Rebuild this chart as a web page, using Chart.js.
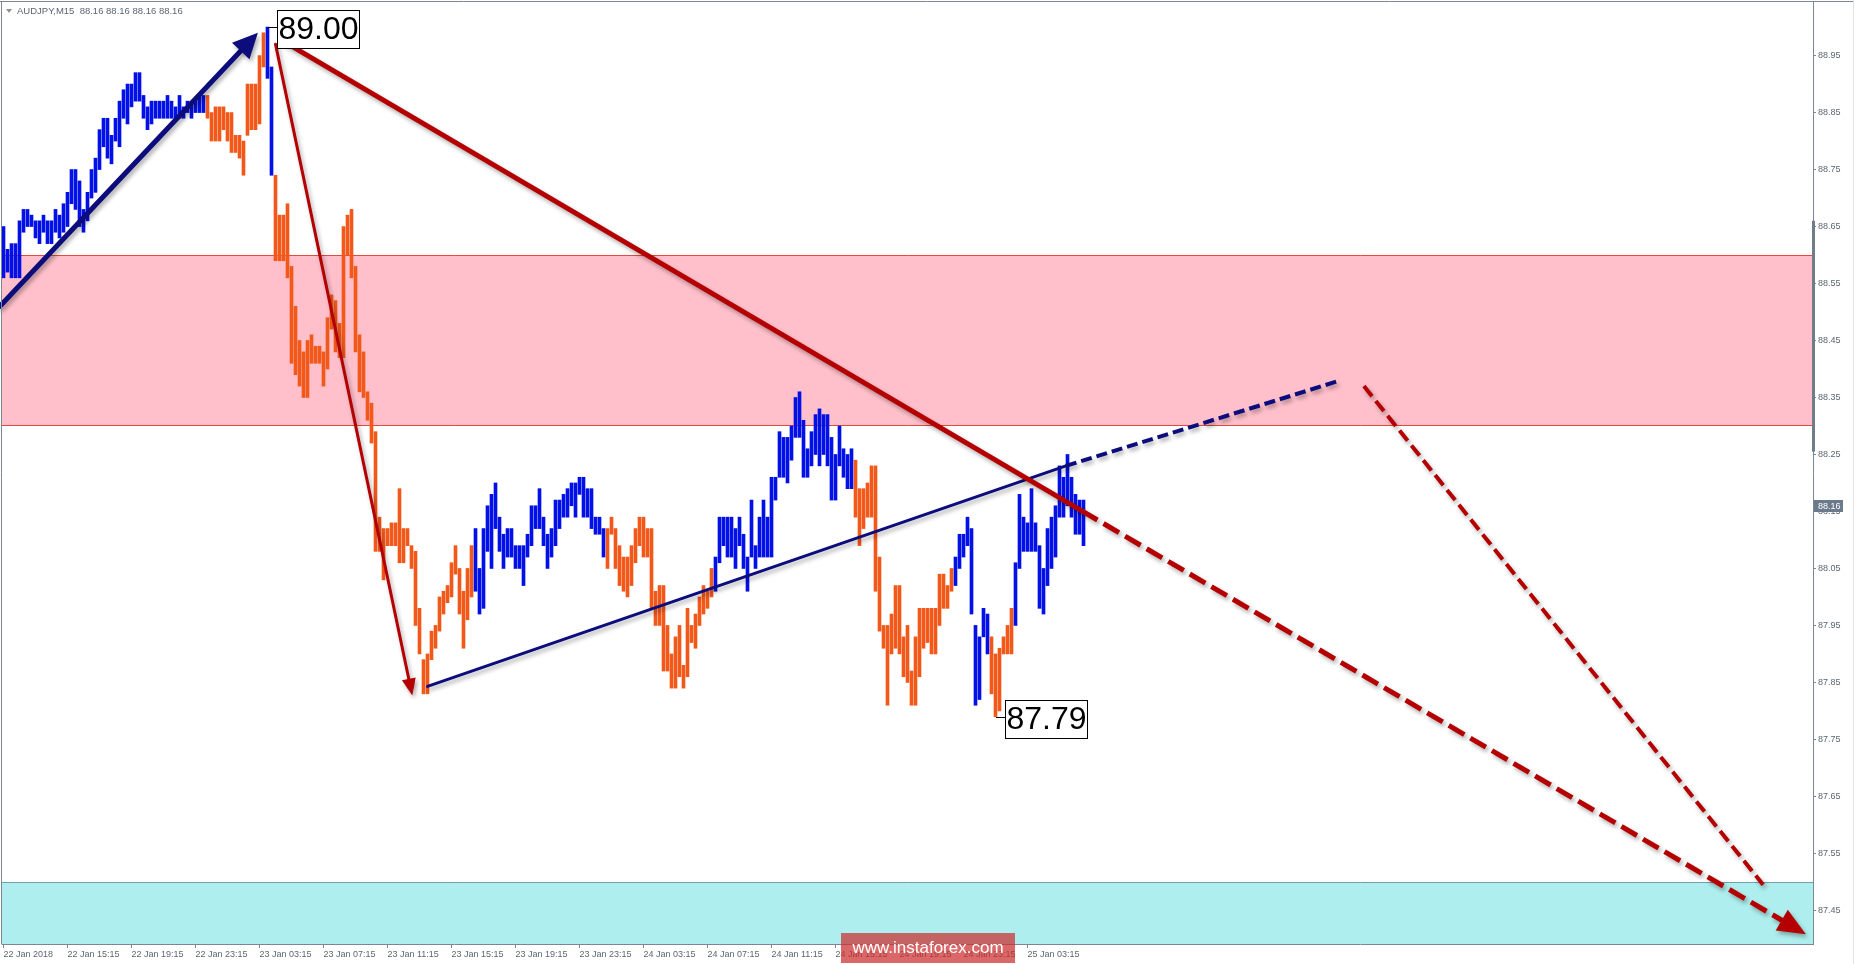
<!DOCTYPE html>
<html>
<head>
<meta charset="utf-8">
<title>AUDJPY M15</title>
<script src="https://cdn.jsdelivr.net/npm/chart.js@4.4.1/dist/chart.umd.min.js"></script>
<style>
  html, body { margin: 0; padding: 0; background: #fff; }
  canvas { display: block; }
</style>
</head>
<body>
<canvas id="chart" width="1855" height="964"></canvas>
<script>
// bar lows / highs, one per M15 bar
const lows = [
  88.56,88.57,88.56,88.56,88.56,88.64,88.65,88.65,88.63,88.62,
  88.64,88.62,88.62,88.64,88.63,88.64,88.65,88.69,88.68,88.65,
  88.64,88.66,88.70,88.71,88.75,88.79,88.77,88.76,88.80,88.79,
  88.84,88.83,88.86,88.87,88.87,88.84,88.82,88.83,88.84,88.84,
  88.84,88.84,88.84,88.84,88.84,88.84,88.85,88.84,88.85,88.85,
  88.85,88.84,88.80,88.80,88.80,88.82,88.80,88.78,88.78,88.77,
  88.74,88.81,88.82,88.82,88.83,88.93,88.91,88.74,88.59,88.59,
  88.59,88.56,88.41,88.39,88.37,88.35,88.35,88.41,88.41,88.41,
  88.37,88.40,88.47,88.43,88.42,88.42,88.60,88.56,88.43,88.36,
  88.35,88.31,88.27,88.08,88.08,88.03,88.09,88.09,88.09,88.06,
  88.06,88.09,88.05,87.95,87.90,87.83,87.83,87.89,87.91,87.94,
  87.97,87.99,88.00,88.04,87.97,87.91,87.96,88.00,88.01,87.97,
  87.98,88.08,88.05,88.12,88.08,88.05,88.07,88.07,88.05,88.05,
  88.02,88.07,88.09,88.12,88.12,88.09,88.05,88.07,88.09,88.12,
  88.14,88.14,88.16,88.14,88.18,88.14,88.14,88.12,88.11,88.11,
  88.07,88.05,88.11,88.05,88.02,88.01,88.00,88.02,88.06,88.09,
  88.07,88.07,87.98,87.95,87.95,87.87,87.87,87.84,87.84,87.86,
  87.84,87.86,87.92,87.91,87.95,87.97,87.98,88.00,88.01,88.06,
  88.09,88.07,88.07,88.05,88.09,88.05,88.01,88.07,88.05,88.07,
  88.07,88.07,88.07,88.17,88.21,88.21,88.20,88.24,88.28,88.28,
  88.21,88.21,88.23,88.25,88.23,88.25,88.23,88.17,88.17,88.23,
  88.21,88.19,88.19,88.14,88.09,88.12,88.14,88.14,88.01,87.94,
  87.91,87.81,87.90,87.91,87.90,87.86,87.85,87.81,87.81,87.86,
  87.91,87.92,87.90,87.90,87.95,87.98,87.98,88.01,88.02,88.05,
  88.07,88.09,87.97,87.81,87.82,87.93,87.90,87.83,87.79,87.80,
  87.90,87.90,87.90,87.95,88.05,88.08,88.08,88.08,88.08,87.98,
  87.97,88.02,88.05,88.07,88.14,88.14,88.16,88.14,88.11,88.11,88.09
];
const highs = [
  88.65,88.61,88.62,88.62,88.66,88.68,88.68,88.67,88.66,88.66,
  88.67,88.66,88.66,88.68,88.67,88.69,88.71,88.75,88.75,88.73,
  88.68,88.71,88.75,88.77,88.82,88.84,88.84,88.81,88.84,88.87,
  88.89,88.90,88.90,88.92,88.92,88.88,88.86,88.87,88.87,88.87,
  88.87,88.88,88.87,88.86,88.88,88.86,88.87,88.87,88.87,88.88,
  88.88,88.88,88.85,88.86,88.86,88.86,88.85,88.85,88.81,88.81,
  88.80,88.90,88.90,88.90,88.95,88.99,89.00,88.93,88.74,88.67,
  88.67,88.69,88.58,88.51,88.45,88.43,88.45,88.46,88.44,88.44,
  88.43,88.49,88.53,88.52,88.48,88.65,88.67,88.68,88.58,88.46,
  88.43,88.36,88.34,88.29,88.14,88.12,88.12,88.13,88.13,88.19,
  88.12,88.12,88.09,88.08,87.98,87.89,87.90,87.94,87.95,88.00,
  88.01,88.02,88.06,88.09,88.05,88.01,88.05,88.09,88.12,88.05,
  88.12,88.16,88.18,88.20,88.14,88.11,88.12,88.12,88.09,88.09,
  88.09,88.11,88.16,88.16,88.19,88.14,88.11,88.12,88.17,88.17,
  88.18,88.19,88.20,88.20,88.21,88.21,88.19,88.19,88.14,88.14,
  88.12,88.12,88.14,88.12,88.09,88.07,88.07,88.09,88.12,88.14,
  88.14,88.12,88.12,88.01,88.02,88.02,87.95,87.90,87.93,87.95,
  87.88,87.98,87.95,87.97,88.00,88.02,88.01,88.05,88.07,88.14,
  88.14,88.14,88.14,88.12,88.14,88.11,88.07,88.17,88.09,88.14,
  88.17,88.14,88.21,88.21,88.29,88.28,88.28,88.30,88.35,88.36,
  88.31,88.26,88.29,88.32,88.33,88.32,88.32,88.28,88.25,88.30,
  88.26,88.25,88.26,88.24,88.19,88.19,88.20,88.23,88.23,88.07,
  87.95,87.95,87.97,88.02,88.02,87.93,87.95,87.87,87.93,87.98,
  87.98,87.98,87.98,87.98,88.04,88.04,88.02,88.05,88.07,88.11,
  88.11,88.14,88.12,87.95,87.93,87.98,87.97,87.93,87.90,87.91,
  87.93,87.95,87.98,88.06,88.18,88.14,88.13,88.19,88.13,88.09,
  88.05,88.12,88.14,88.16,88.23,88.21,88.25,88.21,88.18,88.17,88.17
];
// colour runs: [number of bars, 'u' = blue, 'd' = orange]
const colorRuns = [[51,'u'],[15,'d'],[2,'u'],[50,'d'],[33,'u'],[27,'d'],[35,'u'],[25,'d'],[9,'u'],[6,'d'],[18,'u']];

const timeLabels = ["22 Jan 2018","22 Jan 15:15","22 Jan 19:15","22 Jan 23:15","23 Jan 03:15","23 Jan 07:15",
  "23 Jan 11:15","23 Jan 15:15","23 Jan 19:15","23 Jan 23:15","24 Jan 03:15","24 Jan 07:15","24 Jan 11:15",
  "24 Jan 15:15","24 Jan 19:15","24 Jan 23:15","25 Jan 03:15"];
const priceTicks = [88.95,88.85,88.75,88.65,88.55,88.45,88.35,88.25,88.15,88.05,87.95,87.85,87.75,87.65,87.55,87.45];

const sellZone = [88.30, 88.60];
const buyZone = [87.30, 87.50];
const lastPrice = 88.16;

// wave lines in [bar index, price]
const impulseUp = [[-0.9, 88.51], [63.6, 88.99]];
const mainDown = [[70, 88.975], [269.6, 88.151], [450.6, 87.408]];
const waveA = [[68, 88.97], [102.2, 87.827]];
const waveB = [[106, 87.843], [265.6, 88.23], [334.2, 88.38]];
const altDown = [[340.1, 88.37], [439.9, 87.495]];
const highMark = { bar: 66, price: 89.00 };
const lowMark = { bar: 248, price: 87.79 };

const BLUE = '#0010e6';
const ORANGE = '#f2581a';
const NAVY = '#0c0c7c';
const RED = '#b40000';
const FRAME = '#7b8794';
const TXT = '#5c6670';
const FONT = '"Liberation Sans", Arial, sans-serif';

const dirs = [];
colorRuns.forEach(r => { for (let k = 0; k < r[0]; k++) dirs.push(r[1]); });

const barData = lows.map((lo, i) => ({ x: i, y: [lo, highs[i]] }));

function toPx(chart, p) {
  return [chart.scales.x.getPixelForValue(p[0]), chart.scales.y.getPixelForValue(p[1])];
}

function drawPath(ctx, pts, color, width, dash, head) {
  ctx.save();
  ctx.strokeStyle = color;
  ctx.fillStyle = color;
  ctx.lineWidth = width;
  ctx.setLineDash(dash || []);
  ctx.lineCap = dash ? 'butt' : 'round';
  ctx.shadowColor = 'rgba(0,0,0,0.32)';
  ctx.shadowBlur = 4;
  ctx.shadowOffsetX = 2;
  ctx.shadowOffsetY = 3;
  const last = pts[pts.length - 1], prev = pts[pts.length - 2];
  let end = last, ux = 0, uy = 0;
  if (head) {
    const dx = last[0] - prev[0], dy = last[1] - prev[1], L = Math.hypot(dx, dy);
    ux = dx / L; uy = dy / L;
    end = [last[0] - ux * head[0] * 0.8, last[1] - uy * head[0] * 0.8];
  }
  ctx.beginPath();
  ctx.moveTo(pts[0][0], pts[0][1]);
  for (let k = 1; k < pts.length - 1; k++) ctx.lineTo(pts[k][0], pts[k][1]);
  ctx.lineTo(end[0], end[1]);
  ctx.stroke();
  if (head) {
    ctx.setLineDash([]);
    const bx = last[0] - ux * head[0], by = last[1] - uy * head[0];
    const hw = head[1] / 2;
    ctx.beginPath();
    ctx.moveTo(last[0], last[1]);
    ctx.lineTo(bx - uy * hw, by + ux * hw);
    ctx.lineTo(bx + uy * hw, by - ux * hw);
    ctx.closePath();
    ctx.fill();
  }
  ctx.restore();
}

function priceBox(chart, mark) {
  const ctx = chart.ctx;
  const [x, y] = toPx(chart, [mark.bar, mark.price]);
  const text = mark.price.toFixed(2);
  ctx.save();
  ctx.font = '32px ' + FONT;
  const w = Math.round(ctx.measureText(text).width) + 2;
  const left = Math.round(x + 9) + 0.5, top = Math.round(y - 17) + 0.5;
  ctx.strokeStyle = '#000';
  ctx.lineWidth = 1;
  ctx.beginPath();
  ctx.moveTo(Math.round(x), Math.round(y) + 0.5);
  ctx.lineTo(left, Math.round(y) + 0.5);
  ctx.stroke();
  ctx.fillStyle = '#fff';
  ctx.fillRect(left, top, w, 38);
  ctx.strokeRect(left, top, w, 38);
  ctx.fillStyle = '#000';
  ctx.textBaseline = 'middle';
  ctx.fillText(text, left + 1, top + 20);
  ctx.restore();
}

const overlay = {
  id: 'overlay',
  beforeDatasetsDraw(chart) {
    const { ctx, chartArea: a, scales: { y } } = chart;
    ctx.save();
    const t = Math.round(y.getPixelForValue(sellZone[1])), b = Math.round(y.getPixelForValue(sellZone[0]));
    ctx.fillStyle = '#ffc0cb';
    ctx.fillRect(a.left, t, a.right - a.left, b - t);
    ctx.strokeStyle = '#e8493f';
    ctx.lineWidth = 1;
    ctx.beginPath();
    ctx.moveTo(a.left, t + 0.5); ctx.lineTo(a.right, t + 0.5);
    ctx.moveTo(a.left, b - 0.5); ctx.lineTo(a.right, b - 0.5);
    ctx.stroke();
    const ct = Math.round(y.getPixelForValue(buyZone[1]));
    ctx.fillStyle = '#afeeee';
    ctx.fillRect(a.left, ct, a.right - a.left, a.bottom - ct);
    ctx.strokeStyle = '#6f9fb0';
    ctx.beginPath();
    ctx.moveTo(a.left, ct + 0.5); ctx.lineTo(a.right, ct + 0.5);
    ctx.stroke();
    ctx.restore();
  },
  afterDatasetsDraw(chart) {
    const ctx = chart.ctx;
    const P = pts => pts.map(p => toPx(chart, p));
    drawPath(ctx, P(waveB.slice(0, 2)), NAVY, 3);
    drawPath(ctx, P(waveB.slice(1)), NAVY, 4, [11, 5]);
    drawPath(ctx, P(altDown), RED, 4, [13, 6]);
    drawPath(ctx, P(mainDown.slice(0, 2)), RED, 5);
    drawPath(ctx, P(mainDown.slice(1)), RED, 5, [18, 7], [28, 24]);
    drawPath(ctx, P(waveA), RED, 3, null, [17, 14]);
    drawPath(ctx, P(impulseUp), NAVY, 5, null, [25, 24]);
  },
  afterDraw(chart) {
    const { ctx, chartArea: a, scales: { y } } = chart;
    ctx.save();
    // frame
    ctx.strokeStyle = FRAME;
    ctx.lineWidth = 1;
    ctx.beginPath();
    ctx.moveTo(0, 1.5); ctx.lineTo(1853, 1.5);
    ctx.moveTo(1.5, 1.5); ctx.lineTo(1.5, a.bottom);
    ctx.moveTo(a.right + 0.5, 1.5); ctx.lineTo(a.right + 0.5, a.bottom + 1);
    ctx.moveTo(1.5, a.bottom + 0.5); ctx.lineTo(a.right + 0.5, a.bottom + 0.5);
    ctx.stroke();
    ctx.strokeStyle = '#e2e2e2';
    ctx.beginPath();
    ctx.moveTo(1853.5, 0); ctx.lineTo(1853.5, 964);
    ctx.stroke();
    // scale marker on the price axis
    ctx.fillStyle = '#6f7c89';
    ctx.fillRect(a.right - 1, y.getPixelForValue(88.66), 3, y.getPixelForValue(88.255) - y.getPixelForValue(88.66));
    // current price label
    const yp = Math.round(y.getPixelForValue(lastPrice));
    ctx.fillStyle = '#6b7a8a';
    ctx.fillRect(a.right + 1, yp - 6, 29, 12);
    ctx.fillStyle = '#fff';
    ctx.font = '9px ' + FONT;
    ctx.textBaseline = 'middle';
    ctx.fillText(lastPrice.toFixed(2), a.right + 5, yp + 0.5);
    // title
    ctx.fillStyle = '#8a939c';
    ctx.beginPath();
    ctx.moveTo(6, 9); ctx.lineTo(12, 9); ctx.lineTo(9, 13); ctx.closePath();
    ctx.fill();
    ctx.fillStyle = TXT;
    ctx.font = '9.5px ' + FONT;
    ctx.textBaseline = 'middle';
    const p = lastPrice.toFixed(2);
    ctx.fillText('AUDJPY,M15  ' + [p, p, p, p].join(' '), 17, 11.5);
    ctx.restore();
    priceBox(chart, highMark);
    priceBox(chart, lowMark);
    // watermark
    ctx.save();
    ctx.fillStyle = 'rgba(204,46,46,0.72)';
    ctx.fillRect(841, 933, 174, 30);
    ctx.fillStyle = '#fff';
    ctx.font = '17px ' + FONT;
    ctx.textAlign = 'center';
    ctx.textBaseline = 'middle';
    ctx.fillText('www.instaforex.com', 928, 948);
    ctx.restore();
  }
};

new Chart(document.getElementById('chart'), {
  type: 'bar',
  data: {
    datasets: [{
      data: barData,
      backgroundColor: dirs.map(d => d === 'u' ? BLUE : ORANGE),
      barThickness: 3,
      borderWidth: 0
    }]
  },
  options: {
    responsive: false,
    animation: false,
    events: [],
    layout: { padding: { left: 2, top: 2, right: 0, bottom: 0 } },
    plugins: { legend: { display: false }, tooltip: { enabled: false } },
    scales: {
      x: {
        type: 'linear',
        offset: false,
        min: -0.375,
        max: 452.375,
        afterBuildTicks: s => { s.ticks = timeLabels.map((_, k) => ({ value: k * 16 })); },
        afterFit: s => { s.height = 20; s.paddingLeft = 0; s.paddingRight = 0; },
        ticks: {
          autoSkip: false, maxRotation: 0, align: 'start', padding: 1,
          color: TXT, font: { family: FONT, size: 9 },
          callback: v => timeLabels[Math.round(v / 16)]
        },
        grid: { drawOnChartArea: false, drawTicks: true, tickLength: 4, color: FRAME, offset: false },
        border: { display: false }
      },
      y: {
        position: 'right',
        min: 87.391,
        max: 89.044,
        afterBuildTicks: s => { s.ticks = priceTicks.map(v => ({ value: v })); },
        afterFit: s => { s.width = 42; s.paddingTop = 0; s.paddingBottom = 0; },
        ticks: { padding: 2, color: TXT, font: { family: FONT, size: 9 }, callback: v => v.toFixed(2) },
        grid: { drawOnChartArea: false, drawTicks: true, tickLength: 3, color: FRAME },
        border: { display: false }
      }
    }
  },
  plugins: [overlay]
});
</script>
</body>
</html>
